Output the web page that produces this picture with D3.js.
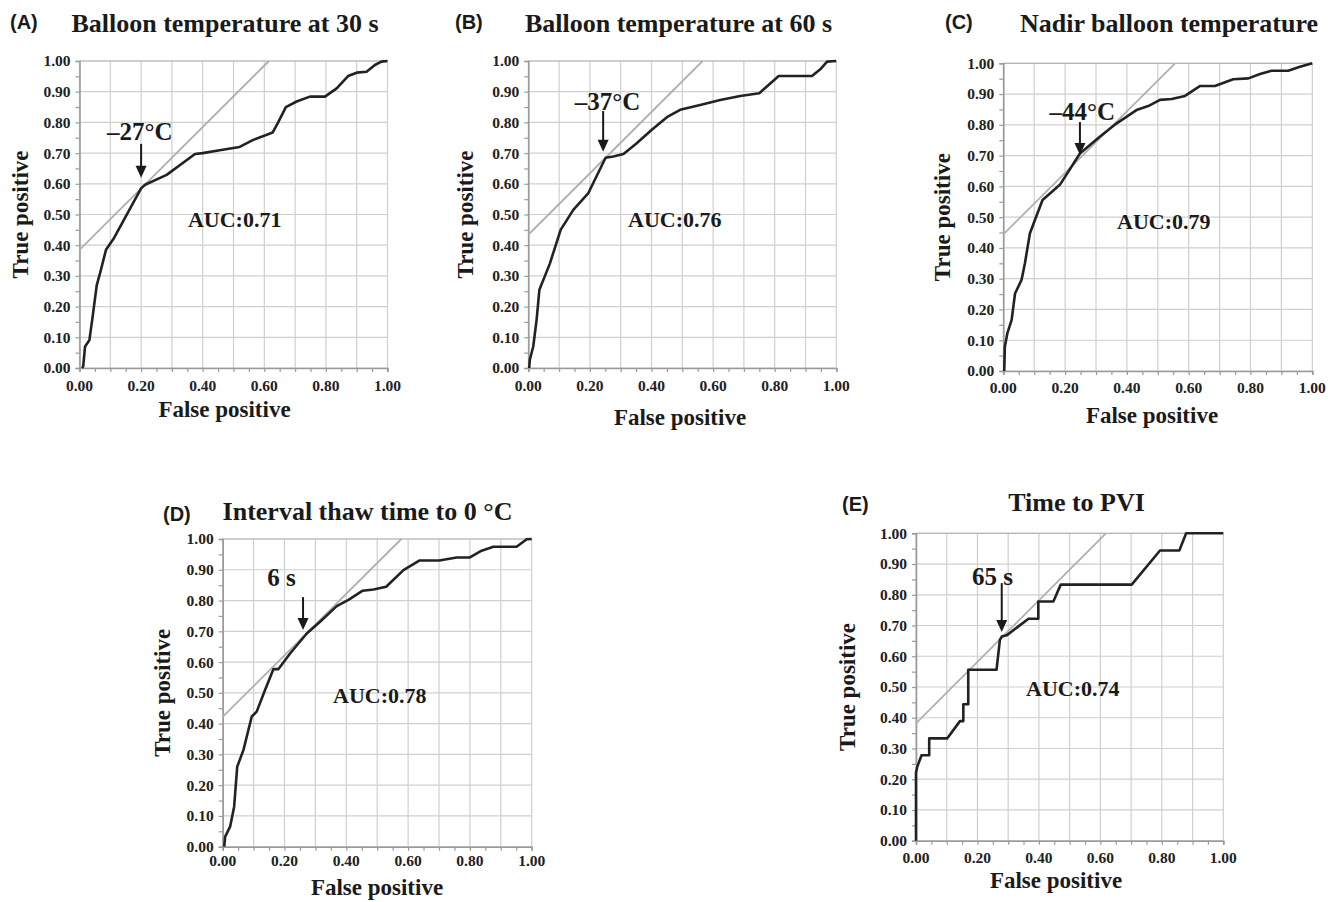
<!DOCTYPE html>
<html>
<head>
<meta charset="utf-8">
<script src="https://cdn.jsdelivr.net/npm/d3@7"></script>
<style>
  html, body { margin: 0; padding: 0; background: #fff; }
  svg { display: block; }
</style>
</head>
<body>
<svg id="chart" width="1331" height="902"></svg>
<script>
// ---------------- DATA ----------------
const tickValues = [0, 0.1, 0.2, 0.3, 0.4, 0.5, 0.6, 0.7, 0.8, 0.9, 1.0];
const xTickLabels = ["0.00", "0.20", "0.40", "0.60", "0.80", "1.00"];
const yTickLabels = ["0.00","0.10","0.20","0.30","0.40","0.50","0.60","0.70","0.80","0.90","1.00"];

const panelLetters = ["(A)", "(B)", "(C)", "(D)", "(E)"];
const panelTitles = ["Balloon temperature at 30 s", "Balloon temperature at 60 s",
  "Nadir balloon temperature", "Interval thaw time to 0 \u00B0C", "Time to PVI"];
const aucLabels = ["AUC:0.71", "AUC:0.76", "AUC:0.79", "AUC:0.78", "AUC:0.74"];
const cutoffLabels = ["\u201327\u00B0C", "\u201337\u00B0C", "\u201344\u00B0C", "6 s", "65 s"];
const tangentIntercepts = [0.385, 0.434, 0.444, 0.422, 0.382];
const cutoffFpr = [0.200, 0.243, 0.248, 0.260, 0.279];

const rocA_fpr = [0.008,0.012,0.018,0.032,0.043,0.056,0.067,0.086,0.110,0.200,0.213,0.283,0.375,0.400,0.460,0.520,0.564,0.627,0.645,0.670,0.705,0.748,0.797,0.835,0.872,0.900,0.932,0.959,0.980,1.000];
const rocA_tpr = [0.000,0.005,0.070,0.090,0.170,0.270,0.310,0.385,0.420,0.585,0.597,0.629,0.697,0.700,0.710,0.720,0.743,0.767,0.800,0.850,0.868,0.884,0.884,0.911,0.951,0.962,0.965,0.987,0.998,1.000];

const rocB_fpr = [0.003,0.005,0.016,0.027,0.036,0.070,0.105,0.146,0.195,0.251,0.276,0.309,0.352,0.400,0.450,0.493,0.558,0.623,0.688,0.750,0.780,0.813,0.921,0.948,0.970,1.000];
const rocB_tpr = [0.000,0.027,0.070,0.157,0.255,0.340,0.450,0.515,0.570,0.685,0.689,0.697,0.732,0.775,0.817,0.841,0.857,0.873,0.886,0.895,0.922,0.951,0.951,0.973,0.998,1.000];

const rocC_fpr = [0.003,0.005,0.013,0.027,0.038,0.059,0.070,0.086,0.102,0.127,0.151,0.183,0.248,0.313,0.367,0.431,0.469,0.507,0.545,0.588,0.636,0.685,0.744,0.793,0.831,0.868,0.922,0.960,1.000];
const rocC_tpr = [0.000,0.079,0.122,0.166,0.252,0.296,0.350,0.447,0.490,0.556,0.577,0.605,0.707,0.762,0.805,0.848,0.861,0.881,0.884,0.894,0.926,0.926,0.948,0.951,0.965,0.976,0.976,0.989,1.000];

const rocD_fpr = [0.005,0.008,0.024,0.037,0.047,0.067,0.094,0.110,0.137,0.164,0.180,0.218,0.272,0.315,0.369,0.407,0.453,0.488,0.529,0.585,0.636,0.701,0.757,0.800,0.838,0.876,0.951,0.984,1.000];
const rocD_tpr = [0.000,0.033,0.065,0.130,0.260,0.314,0.423,0.439,0.509,0.577,0.577,0.628,0.693,0.731,0.782,0.802,0.832,0.836,0.845,0.899,0.930,0.930,0.940,0.940,0.962,0.975,0.975,0.999,1.000];

const rocE_fpr = [0.000,0.000,0.004,0.018,0.043,0.043,0.102,0.143,0.154,0.154,0.170,0.170,0.262,0.273,0.279,0.295,0.366,0.398,0.398,0.447,0.471,0.702,0.794,0.857,0.879,1.000];
const rocE_tpr = [0.000,0.222,0.240,0.278,0.278,0.333,0.333,0.389,0.389,0.444,0.444,0.556,0.556,0.653,0.664,0.668,0.722,0.722,0.778,0.778,0.833,0.833,0.944,0.944,1.000,1.000];

// annotation anchor positions in data space
const aucPos = [[0.352,0.459],[0.324,0.459],[0.368,0.461],[0.357,0.467],[0.358,0.471]];
const cutoffLabelPos = [[0.196,0.743],[0.257,0.840],[0.256,0.816],[0.190,0.847],[0.249,0.832]];
const arrowY = [[0.730,0.620],[0.837,0.704],[0.809,0.702],[0.811,0.704],[0.838,0.679]];

const rocFpr = [rocA_fpr, rocB_fpr, rocC_fpr, rocD_fpr, rocE_fpr];
const rocTpr = [rocA_tpr, rocB_tpr, rocC_tpr, rocD_tpr, rocE_tpr];

// ---------------- LAYOUT ----------------
const layout = [
  {x0: 79.5,  y0: 61,    w: 308,   h: 307,   letterX: 10,  letterY: 29,  titleX: 225,   titleY: 32,  ylabX: 20,  xlabX: 224.5, xlabY: 417, xtickDy: 22.5},
  {x0: 528.3, y0: 61,    w: 308,   h: 307,   letterX: 455, letterY: 29,  titleX: 678.5, titleY: 32,  ylabX: 465, xlabX: 680,   xlabY: 425, xtickDy: 23},
  {x0: 1003.3,y0: 63.3,  w: 309,   h: 307.7, letterX: 945, letterY: 29,  titleX: 1169,  titleY: 32,  ylabX: 942, xlabX: 1152,  xlabY: 423, xtickDy: 22},
  {x0: 222.7, y0: 539,   w: 309,   h: 307.7, letterX: 163, letterY: 521, titleX: 367.5, titleY: 520, ylabX: 162, xlabX: 377,   xlabY: 895, xtickDy: 19},
  {x0: 916,   y0: 533.3, w: 307.3, h: 307.4, letterX: 842, letterY: 511, titleX: 1076.5,titleY: 511, ylabX: 847, xlabX: 1056,  xlabY: 888, xtickDy: 22}
];

const serif = "'Liberation Serif', 'Times New Roman', serif";
const sans = "'Liberation Sans', Arial, sans-serif";
const svg = d3.select("#chart");

layout.forEach((L, i) => {
  const x = d3.scaleLinear().domain([0, 1]).range([L.x0, L.x0 + L.w]);
  const y = d3.scaleLinear().domain([0, 1]).range([L.y0 + L.h, L.y0]);
  const g = svg.append("g");

  // grid
  g.append("g").selectAll("line").data(tickValues).join("line")
    .attr("x1", d => x(d)).attr("x2", d => x(d))
    .attr("y1", y(0)).attr("y2", y(1))
    .attr("stroke", "#cfcfcf").attr("stroke-width", 1.2);
  g.append("g").selectAll("line").data(tickValues).join("line")
    .attr("y1", d => y(d)).attr("y2", d => y(d))
    .attr("x1", x(0)).attr("x2", x(1))
    .attr("stroke", "#cfcfcf").attr("stroke-width", 1.2);
  g.append("line").attr("x1", x(0)).attr("x2", x(1)).attr("y1", y(1)).attr("y2", y(1))
    .attr("stroke", "#b5b5b5").attr("stroke-width", 1.2);

  // axes
  const minor = d3.range(0, 1.0001, 0.05);
  const xAxis = d3.axisBottom(x).tickValues(minor).tickSize(4).tickFormat("");
  const yAxis = d3.axisLeft(y).tickValues(minor).tickSize(4).tickFormat("");
  const gx = g.append("g").attr("transform", `translate(0,${y(0)})`).call(xAxis);
  const gy = g.append("g").attr("transform", `translate(${x(0)},0)`).call(yAxis);
  [gx, gy].forEach(a => {
    a.select(".domain").attr("stroke", "#9a9a9a").attr("stroke-width", 1.6);
    a.selectAll(".tick line").attr("stroke", "#9a9a9a").attr("stroke-width", 1.2);
  });

  // tick labels
  g.append("g").selectAll("text").data(xTickLabels).join("text")
    .attr("x", d => x(+d)).attr("y", y(0) + L.xtickDy)
    .attr("text-anchor", "middle")
    .attr("font-family", serif).attr("font-weight", "bold").attr("font-size", 15.5)
    .attr("fill", "#222").text(d => d);
  g.append("g").selectAll("text").data(yTickLabels).join("text")
    .attr("x", x(0) - 9).attr("y", d => y(+d)).attr("dy", "0.35em")
    .attr("text-anchor", "end")
    .attr("font-family", serif).attr("font-weight", "bold").attr("font-size", 15.5)
    .attr("fill", "#222").text(d => d);

  // tangent line
  const b = tangentIntercepts[i];
  g.append("line")
    .attr("x1", x(0)).attr("y1", y(b))
    .attr("x2", x(1 - b)).attr("y2", y(1))
    .attr("stroke", "#b0b0b0").attr("stroke-width", 1.8);

  // ROC curve
  const pts = rocFpr[i].map((f, k) => [f, rocTpr[i][k]]);
  g.append("path").datum(pts)
    .attr("d", d3.line().x(d => x(d[0])).y(d => y(d[1])))
    .attr("fill", "none").attr("stroke", "#222").attr("stroke-width", 2.6)
    .attr("stroke-linejoin", "round");

  // arrow
  const ax = x(cutoffFpr[i]);
  const tipY = y(arrowY[i][1]);
  g.append("line")
    .attr("x1", ax).attr("x2", ax)
    .attr("y1", y(arrowY[i][0])).attr("y2", tipY - 10)
    .attr("stroke", "#1a1a1a").attr("stroke-width", 2);
  g.append("path")
    .attr("d", d3.line()([[ax - 5.5, tipY - 12], [ax + 5.5, tipY - 12], [ax, tipY]]) + "Z")
    .attr("fill", "#1a1a1a");

  // cutoff label
  g.append("text")
    .attr("x", x(cutoffLabelPos[i][0])).attr("y", y(cutoffLabelPos[i][1]))
    .attr("text-anchor", "middle")
    .attr("font-family", serif).attr("font-weight", "bold").attr("font-size", 25)
    .attr("fill", "#1a1a1a").text(cutoffLabels[i]);

  // AUC label
  g.append("text")
    .attr("x", x(aucPos[i][0])).attr("y", y(aucPos[i][1]))
    .attr("font-family", serif).attr("font-weight", "bold").attr("font-size", 22)
    .attr("fill", "#1a1a1a").text(aucLabels[i]);

  // titles
  g.append("text").attr("x", L.letterX).attr("y", L.letterY)
    .attr("font-family", sans).attr("font-weight", "bold").attr("font-size", 20)
    .attr("fill", "#1a1a1a").text(panelLetters[i]);
  g.append("text").attr("x", L.titleX).attr("y", L.titleY)
    .attr("text-anchor", "middle")
    .attr("font-family", serif).attr("font-weight", "bold").attr("font-size", 26)
    .attr("fill", "#1a1a1a").text(panelTitles[i]);

  // axis labels
  g.append("text").attr("x", L.xlabX).attr("y", L.xlabY)
    .attr("text-anchor", "middle")
    .attr("font-family", serif).attr("font-weight", "bold").attr("font-size", 23)
    .attr("fill", "#1a1a1a").text("False positive");
  g.append("text")
    .attr("transform", `translate(${L.ylabX},${L.y0 + L.h / 2}) rotate(-90)`)
    .attr("dy", "0.35em")
    .attr("text-anchor", "middle")
    .attr("font-family", serif).attr("font-weight", "bold").attr("font-size", 23)
    .attr("fill", "#1a1a1a").text("True positive");
});
</script>
</body>
</html>
